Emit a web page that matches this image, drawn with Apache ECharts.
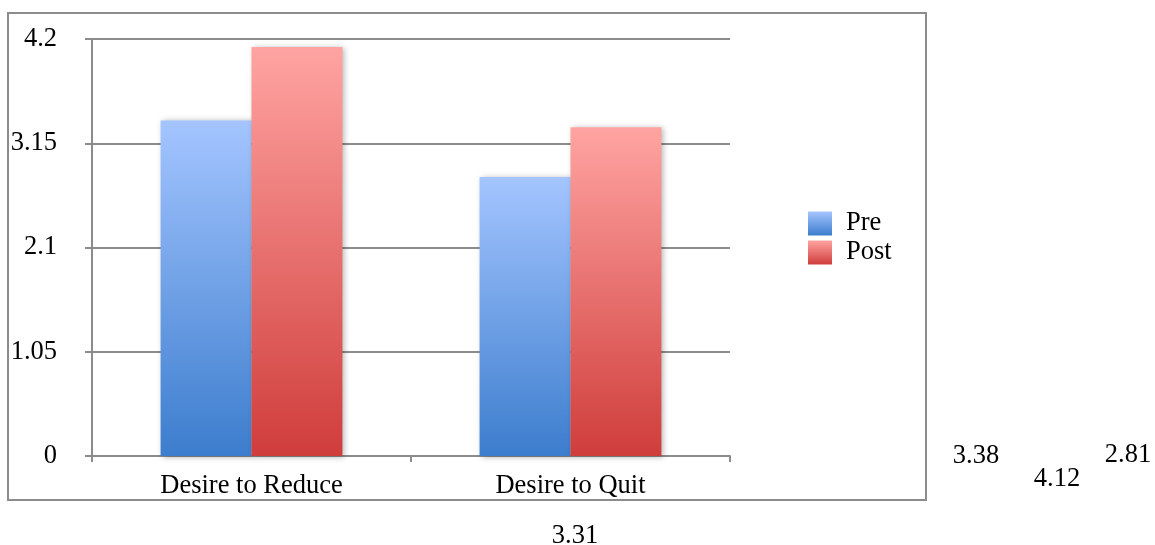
<!DOCTYPE html>
<html>
<head>
<meta charset="utf-8">
<script src="https://cdn.jsdelivr.net/npm/echarts@6/dist/echarts.min.js"></script>
<style>
  html, body { margin: 0; padding: 0; background: #fff; }
  #chart { width: 1155px; height: 545px; }
</style>
</head>
<body>
<div id="chart"></div>
<script>
// Chart data
const categories = ['Desire to Reduce', 'Desire to Quit'];
const preValues = [3.38, 2.81];
const postValues = [4.12, 3.31];
const seriesNames = ['Pre', 'Post'];
const yTicks = { min: 0, max: 4.2, step: 1.05 };

const FONT = '"Liberation Serif", "Times New Roman", serif';
const GRAY = '#8c8c8c';
const FS = 26.5;

function vGrad(top, bottom) {
  return new echarts.graphic.LinearGradient(0, 0, 0, 1, [
    { offset: 0, color: top },
    { offset: 1, color: bottom }
  ]);
}

const chart = echarts.init(document.getElementById('chart'), null, { renderer: 'canvas' });

// Loose value texts to the lower right of the frame and under it
const looseValues = [
  { v: preValues[0],  x: 976,  y: 456 },
  { v: postValues[0], x: 1057, y: 479 },
  { v: preValues[1],  x: 1128, y: 455 },
  { v: postValues[1], x: 575,  y: 536 }
];

const barShadow = {
  shadowBlur: 6,
  shadowOffsetX: 2,
  shadowOffsetY: 1,
  shadowColor: 'rgba(0,0,0,0.3)'
};

chart.setOption({
  animation: false,
  backgroundColor: '#fff',
  textStyle: { fontFamily: FONT },
  grid: { left: 92, right: 425, top: 39, bottom: 89, containLabel: false },
  legend: {
    orient: 'vertical',
    left: 803,
    top: 205,
    itemWidth: 24,
    itemHeight: 24,
    itemGap: 2,
    icon: 'rect',
    textStyle: { fontFamily: FONT, fontSize: FS, color: '#000', padding: [0, 0, 0, 9] },
    data: seriesNames
  },
  xAxis: {
    type: 'category',
    data: categories,
    boundaryGap: true,
    axisLine: { show: true, lineStyle: { color: GRAY, width: 2 } },
    axisTick: { show: true, length: 6, alignWithLabel: false, lineStyle: { color: GRAY, width: 2 } },
    axisLabel: { color: '#000', fontFamily: FONT, fontSize: FS, margin: 17 },
    splitLine: { show: false }
  },
  yAxis: {
    type: 'value',
    min: yTicks.min,
    max: yTicks.max,
    interval: yTicks.step,
    axisLine: { show: true, lineStyle: { color: GRAY, width: 2 } },
    axisTick: { show: true, length: 7, lineStyle: { color: GRAY, width: 2 } },
    axisLabel: { color: '#000', fontFamily: FONT, fontSize: FS, margin: 35 },
    splitLine: { show: true, lineStyle: { color: GRAY, width: 2 } }
  },
  series: [
    {
      name: seriesNames[0],
      type: 'bar',
      data: preValues,
      barGap: '0%',
      barCategoryGap: '43%',
      itemStyle: Object.assign({ color: vGrad('#a4c5ff', '#3c7dcd') }, barShadow)
    },
    {
      name: seriesNames[1],
      type: 'bar',
      data: postValues,
      barGap: '0%',
      barCategoryGap: '43%',
      itemStyle: Object.assign({ color: vGrad('#ffa4a2', '#cf3d3b') }, barShadow)
    }
  ],
  graphic: [
    {
      type: 'rect',
      shape: { x: 8, y: 13, width: 918, height: 487 },
      style: { fill: 'none', stroke: GRAY, lineWidth: 2 },
      z: -1,
      silent: true
    }
  ].concat(looseValues.map(d => ({
    type: 'text',
    x: d.x,
    y: d.y,
    style: {
      text: d.v.toFixed(2),
      fontFamily: FONT,
      fontSize: FS,
      fill: '#000',
      align: 'center',
      verticalAlign: 'middle'
    },
    silent: true
  })))
});
</script>
</body>
</html>
